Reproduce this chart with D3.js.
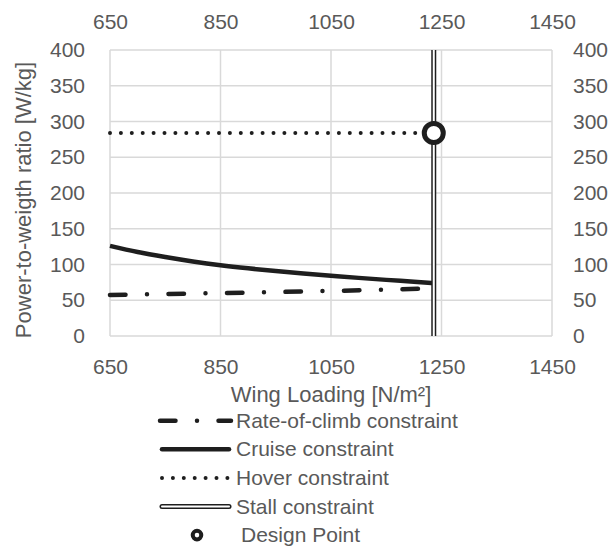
<!DOCTYPE html>
<html>
<head>
<meta charset="utf-8">
<script src="https://cdn.jsdelivr.net/npm/d3@7"></script>
<style>
  html, body { margin: 0; padding: 0; background: #fff; }
  text { font-family: "Liberation Sans", Arial, sans-serif; fill: #595959; }
</style>
</head>
<body>
<svg id="chart" width="614" height="551"></svg>
<script>
// ---- data ----
const xTicks = [650, 850, 1050, 1250, 1450];
const yTicks = [0, 50, 100, 150, 200, 250, 300, 350, 400];
const cruiseWL = [650, 700, 750, 800, 850, 900, 950, 1000, 1050, 1100, 1150, 1200, 1236];
const cruisePW = [126, 117.5, 110.5, 104.3, 99, 94.6, 90.8, 87.4, 84.3, 81.3, 78.5, 75.8, 73.8];
const climbWL = [650, 750, 850, 950, 1050, 1150, 1236];
const climbPW = [57.5, 58.8, 60, 61.5, 63, 64.8, 66.5];
const hoverWL = [650, 1236];
const hoverPW = [284, 284];
const stallWL = [1236, 1236];
const stallPW = [0, 400];
const designWL = [1236];
const designPW = [284];
const legendLabels = ["Rate-of-climb constraint", "Cruise constraint", "Hover constraint", "Stall constraint", "Design Point"];
const xTitle = "Wing Loading [N/m²]";
const yTitle = "Power-to-weigth ratio [W/kg]";

// ---- layout ----
const svg = d3.select("#chart");
const L = 110, R = 552, T = 50, B = 336;
const x = d3.scaleLinear().domain([650, 1450]).range([L, R]);
const y = d3.scaleLinear().domain([0, 400]).range([B, T]);
const grid = "#d9d9d9", ink = "#1e1e1e";
const fs = 21;

// gridlines
svg.append("g").selectAll("line").data(xTicks).join("line")
  .attr("x1", d => x(d)).attr("x2", d => x(d)).attr("y1", T).attr("y2", B)
  .attr("stroke", grid).attr("stroke-width", 1.5);
svg.append("g").selectAll("line").data(yTicks).join("line")
  .attr("x1", L).attr("x2", R).attr("y1", d => y(d)).attr("y2", d => y(d))
  .attr("stroke", grid).attr("stroke-width", 1.5);

// axes (labels only)
function styleAxis(g) {
  g.select(".domain").remove();
  g.selectAll(".tick line").remove();
  g.selectAll("text").attr("font-size", fs).attr("fill", "#595959")
    .attr("font-family", "Liberation Sans, Arial, sans-serif");
}
svg.append("g").attr("transform", `translate(0,${B})`)
  .call(d3.axisBottom(x).tickValues(xTicks).tickSize(0).tickPadding(23).tickFormat(d3.format("d")))
  .call(styleAxis);
svg.append("g").attr("transform", `translate(0,${T})`)
  .call(d3.axisTop(x).tickValues(xTicks).tickSize(0).tickPadding(21).tickFormat(d3.format("d")))
  .call(styleAxis);
svg.append("g").attr("transform", `translate(${L},0)`)
  .call(d3.axisLeft(y).tickValues(yTicks).tickSize(0).tickPadding(25).tickFormat(d3.format("d")))
  .call(styleAxis);
svg.append("g").attr("transform", `translate(${R},0)`)
  .call(d3.axisRight(y).tickValues(yTicks).tickSize(0).tickPadding(21).tickFormat(d3.format("d")))
  .call(styleAxis);

// titles
svg.append("text").attr("x", 331).attr("y", 402).attr("text-anchor", "middle")
  .attr("font-size", 22).text(xTitle);
svg.append("text").attr("transform", "translate(31,200) rotate(-90)").attr("text-anchor", "middle")
  .attr("font-size", 22).text(yTitle);

// series
const line = d3.line().x(d => x(d[0])).y(d => y(d[1]));
const climbDash = "15.5 21.5 0 21.5";
const hoverDash = "0 10.9";

svg.append("path").attr("d", d3.line().x(d => x(d[0])).y(d => y(d[1])).curve(d3.curveMonotoneX)(d3.zip(cruiseWL, cruisePW)))
  .attr("fill", "none").attr("stroke", ink).attr("stroke-width", 4.5);
svg.append("path").attr("d", line(d3.zip(climbWL, climbPW)))
  .attr("fill", "none").attr("stroke", ink).attr("stroke-width", 4.5)
  .attr("stroke-dasharray", climbDash).attr("stroke-linecap", "round");
svg.append("path").attr("d", line(d3.zip(hoverWL, hoverPW)))
  .attr("fill", "none").attr("stroke", ink).attr("stroke-width", 4)
  .attr("stroke-dasharray", hoverDash).attr("stroke-linecap", "round");
const stallD = line(d3.zip(stallWL, stallPW));
svg.append("path").attr("d", stallD).attr("stroke", ink).attr("stroke-width", 5);
svg.append("path").attr("d", stallD).attr("stroke", "#fff").attr("stroke-width", 2);

svg.append("g").selectAll("circle").data(d3.zip(designWL, designPW)).join("circle")
  .attr("cx", d => x(d[0])).attr("cy", d => y(d[1])).attr("r", 9.5)
  .attr("fill", "#fff").attr("stroke", ink).attr("stroke-width", 5);

// legend
const lx0 = 160, lx1 = 231, ly0 = 420.7, dy = 28.6, tx = 236;
const lg = svg.append("g");
legendLabels.forEach((lab, i) => {
  const cy = ly0 + i * dy;
  if (i === 0) {
    lg.append("line").attr("x1", lx0).attr("x2", lx1).attr("y1", cy).attr("y2", cy)
      .attr("stroke", ink).attr("stroke-width", 4.5).attr("stroke-linecap", "round")
      .attr("stroke-dasharray", climbDash);
  } else if (i === 1) {
    lg.append("line").attr("x1", lx0 + 2).attr("x2", lx1 - 2).attr("y1", cy).attr("y2", cy)
      .attr("stroke", ink).attr("stroke-width", 4.5).attr("stroke-linecap", "round");
  } else if (i === 2) {
    lg.append("line").attr("x1", lx0 + 2).attr("x2", lx1).attr("y1", cy).attr("y2", cy)
      .attr("stroke", ink).attr("stroke-width", 4).attr("stroke-linecap", "round")
      .attr("stroke-dasharray", hoverDash);
  } else if (i === 3) {
    lg.append("line").attr("x1", lx0 + 2).attr("x2", lx1 - 2).attr("y1", cy).attr("y2", cy)
      .attr("stroke", ink).attr("stroke-width", 5).attr("stroke-linecap", "round");
    lg.append("line").attr("x1", lx0 + 2).attr("x2", lx1 - 2).attr("y1", cy).attr("y2", cy)
      .attr("stroke", "#fff").attr("stroke-width", 2).attr("stroke-linecap", "round");
  } else {
    lg.append("circle").attr("cx", 197).attr("cy", cy).attr("r", 4.3)
      .attr("fill", "#fff").attr("stroke", ink).attr("stroke-width", 4);
  }
  lg.append("text").attr("x", i === 4 ? tx + 5 : tx).attr("y", cy + 7)
    .attr("font-size", fs).text(lab);
});
</script>
</body>
</html>
